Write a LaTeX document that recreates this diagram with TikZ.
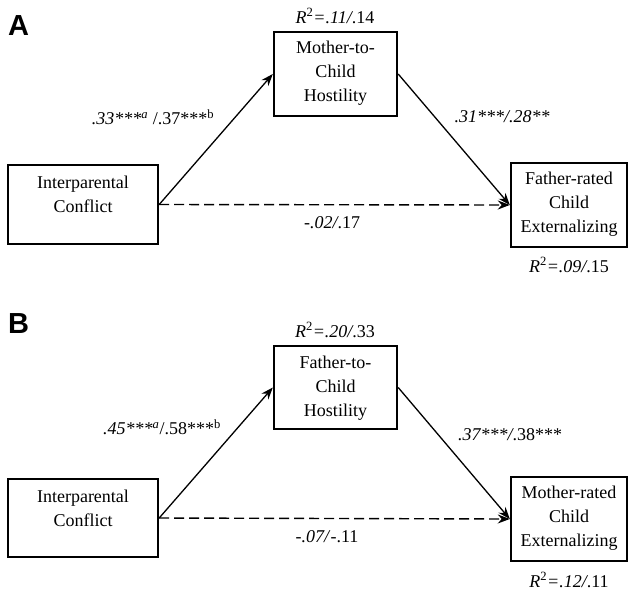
\documentclass[tikz,border=0pt]{standalone}
\usepackage{fontspec}
\setmainfont{Liberation Serif}
\newfontfamily\panelfont{Liberation Sans}
\usetikzlibrary{arrows.meta}
\begin{document}
\begin{tikzpicture}[x=1pt,y=-1pt,
  box/.style={draw, line width=2.4pt, inner sep=0pt},
  txt/.style={align=center, font=\fontsize{18}{24}\selectfont, inner sep=0pt},
  lab/.style={font=\fontsize{18}{22}\selectfont, inner sep=0pt},
  panel/.style={font=\panelfont\bfseries\fontsize{29}{29}\selectfont, inner sep=0pt, anchor=base west},
  arr/.style={line width=1.3pt, -{Stealth[length=12pt,width=9pt]}},
  darr/.style={arr, line width=1.4pt, dash pattern=on 10pt off 5pt}]
\useasboundingbox (0,0) rectangle (629,592);

% ---------- Panel A ----------
\node[panel] (pA) at (8,35) {A};
\node[box, minimum width=150pt, minimum height=79pt] (IA) at (83,204.5) {};
\node[txt] (IAt) at (83,194) {Interparental\\Conflict};
\node[box, minimum width=123pt, minimum height=84pt] (MA) at (335.5,74) {};
\node[txt] (MAt) at (335.5,73.5) {Mother-to-\\Child\\Hostility};
\node[box, minimum width=116pt, minimum height=84pt] (FA) at (569,205) {};
\node[txt] (FAt) at (569,204) {Father-rated\\Child\\Externalizing};

\draw[arr] (IA.east) -- (MA.west);
\draw[arr] (MA.east) -- (FA.west);
\draw[darr] (IA.east) -- (FA.west);

\node[lab] (a1) at (153,117) {\textit{.33***\textsuperscript{a}} /.37***\textsuperscript{b}};
\node[lab] (a2) at (335,16) {\textit{R}\textsuperscript{2}\textit{=.11/}.14};
\node[lab] (a3) at (502,117) {\textit{.31***/.28**}};
\node[lab] (a4) at (332,223) {\textit{-.02/}.17};
\node[lab] (a5) at (569,265) {\textit{R}\textsuperscript{2}\textit{=.09/}.15};

% ---------- Panel B ----------
\node[panel] (pB) at (8,333) {B};
\node[box, minimum width=150pt, minimum height=78pt] (IB) at (83,518) {};
\node[txt] (IBt) at (83,508.5) {Interparental\\Conflict};
\node[box, minimum width=123pt, minimum height=83pt] (FB) at (335.5,387.5) {};
\node[txt] (FBt) at (335.5,388) {Father-to-\\Child\\Hostility};
\node[box, minimum width=116pt, minimum height=84pt] (MB) at (569,519) {};
\node[txt] (MBt) at (569,518.5) {Mother-rated\\Child\\Externalizing};

\draw[arr] (IB.east) -- (FB.west);
\draw[arr] (FB.east) -- (MB.west);
\draw[darr] (IB.east) -- (MB.west);

\node[lab] (b1) at (162,427) {\textit{.45***\textsuperscript{a}}/.58***\textsuperscript{b}};
\node[lab] (b2) at (335,330) {\textit{R}\textsuperscript{2}\textit{=.20/}.33};
\node[lab] (b3) at (510,435) {\textit{.37***/}.38***};
\node[lab] (b4) at (327,537) {\textit{-.07/}-.11};
\node[lab] (b5) at (569,580) {\textit{R}\textsuperscript{2}\textit{=.12/}.11};
\end{tikzpicture}
\end{document}
